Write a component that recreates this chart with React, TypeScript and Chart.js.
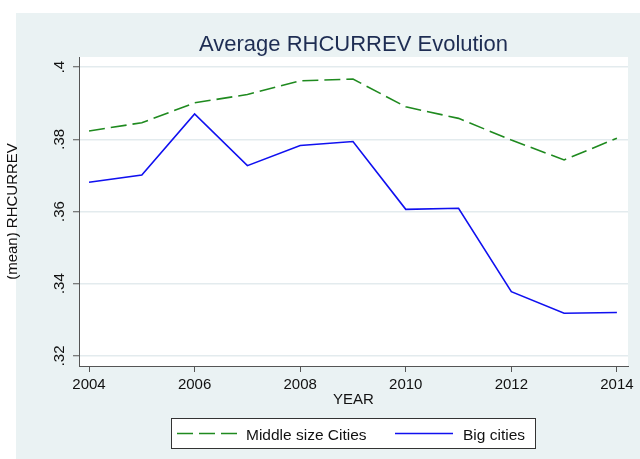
import React, { useEffect, useRef } from "react";
import { Chart, registerables } from "chart.js";

Chart.register(...registerables);

const YEARS = [2004, 2005, 2006, 2007, 2008, 2009, 2010, 2011, 2012, 2013, 2014];
const MIDDLE = [0.3823, 0.3846, 0.3901, 0.3924, 0.3962, 0.3967, 0.389, 0.3858, 0.3798, 0.3743, 0.3803];
const BIG = [0.3681, 0.3701, 0.387, 0.3727, 0.3783, 0.3794, 0.3606, 0.3609, 0.3378, 0.3318, 0.332];
const X_TICKS = [2004, 2006, 2008, 2010, 2012, 2014];
const Y_TICKS = [0.32, 0.34, 0.36, 0.38, 0.4];
const Y_TICK_LABELS = [".32", ".34", ".36", ".38", ".4"];
const SERIES_NAMES = ["Middle size Cities", "Big cities"];
const TITLE = "Average RHCURREV Evolution";
const X_TITLE = "YEAR";
const Y_TITLE = "(mean) RHCURREV";

const FONT = "'Liberation Sans', Arial, Helvetica, sans-serif";
const BG = "#EAF2F3";
const GREEN = "#1f8a1f";
const BLUE = "#1010f0";
const AXIS = "#555555";

const backgroundPlugin = {
  id: "stataBackground",
  beforeDraw(chart: any) {
    const { ctx, width, height, chartArea } = chart;
    ctx.save();
    ctx.fillStyle = "#ffffff";
    ctx.fillRect(0, 0, width, height);
    ctx.fillStyle = BG;
    ctx.fillRect(16, 13, width - 16, height - 13);
    ctx.fillStyle = "#ffffff";
    ctx.fillRect(chartArea.left, chartArea.top, chartArea.right - chartArea.left, chartArea.bottom - chartArea.top);
    ctx.restore();
  },
  afterDraw(chart: any) {
    const { ctx, chartArea } = chart;
    ctx.save();
    // title
    ctx.fillStyle = "#1e2d53";
    ctx.font = `22px ${FONT}`;
    ctx.textAlign = "center";
    ctx.textBaseline = "alphabetic";
    ctx.fillText(TITLE, (chartArea.left + chartArea.right) / 2, 51);

    // y-axis title, partly cut off at the left edge as in the original export
    ctx.save();
    ctx.beginPath();
    ctx.rect(7, 0, 40, chart.height);
    ctx.clip();
    ctx.translate(17, (chartArea.top + chartArea.bottom) / 2);
    ctx.rotate(-Math.PI / 2);
    ctx.fillStyle = "#111111";
    ctx.font = `15px ${FONT}`;
    ctx.textAlign = "center";
    ctx.textBaseline = "alphabetic";
    ctx.fillText(Y_TITLE, 0, 0);
    ctx.restore();

    // legend
    const lx = 171.5, ly = 418.5, lw = 364, lh = 30;
    ctx.fillStyle = "#ffffff";
    ctx.fillRect(lx, ly, lw, lh);
    ctx.strokeStyle = "#333333";
    ctx.lineWidth = 1;
    ctx.strokeRect(lx, ly, lw, lh);
    const cy = ly + lh / 2;
    const colors = [GREEN, BLUE];
    const dashes = [[16, 6], []];
    const sx = [177, 395];
    const sw = [60, 58];
    const tx = [246, 463];
    ctx.font = `15.5px ${FONT}`;
    ctx.textAlign = "left";
    ctx.textBaseline = "alphabetic";
    for (let i = 0; i < 2; i++) {
      ctx.beginPath();
      ctx.setLineDash(dashes[i]);
      ctx.strokeStyle = colors[i];
      ctx.lineWidth = 1.6;
      ctx.moveTo(sx[i], cy);
      ctx.lineTo(sx[i] + sw[i], cy);
      ctx.stroke();
      ctx.setLineDash([]);
      ctx.fillStyle = "#111111";
      ctx.fillText(SERIES_NAMES[i], tx[i], cy + 6);
    }
    ctx.restore();
  },
};

export default function App() {
  const ref = useRef<HTMLCanvasElement | null>(null);
  useEffect(() => {
    document.body.style.margin = "0";
    const canvas = ref.current!;
    const chart = new Chart(canvas, {
      type: "line",
      data: {
        datasets: [
          {
            label: SERIES_NAMES[0],
            data: YEARS.map((x, i) => ({ x, y: MIDDLE[i] })),
            borderColor: GREEN,
            borderWidth: 1.6,
            borderDash: [16, 6],
            pointRadius: 0,
            tension: 0,
            fill: false,
          },
          {
            label: SERIES_NAMES[1],
            data: YEARS.map((x, i) => ({ x, y: BIG[i] })),
            borderColor: BLUE,
            borderWidth: 1.6,
            pointRadius: 0,
            tension: 0,
            fill: false,
          },
        ],
      },
      options: {
        responsive: false,
        animation: false,
        devicePixelRatio: 1,
        layout: { padding: { left: 0, top: 57, right: 12, bottom: 48 } },
        plugins: {
          legend: { display: false },
          title: { display: false },
          tooltip: { enabled: false },
        },
        scales: {
          x: {
            type: "linear",
            min: 2003.81,
            max: 2014.21,
            afterBuildTicks: (s: any) => {
              s.ticks = X_TICKS.map((v) => ({ value: v }));
            },
            afterFit: (s: any) => {
              s.height = 45;
            },
            ticks: {
              includeBounds: false,
              autoSkip: false,
              maxRotation: 0,
              minRotation: 0,
              padding: 4,
              color: "#111111",
              font: { family: FONT, size: 15 },
              callback: (v: any) => String(v),
            },
            grid: {
              drawOnChartArea: false,
              tickLength: 6,
              tickColor: AXIS,
              tickWidth: 1,
            },
            border: { display: true, color: AXIS, width: 1 },
            title: {
              display: true,
              text: X_TITLE,
              color: "#111111",
              font: { family: FONT, size: 15 },
              padding: { top: 0, bottom: 2 },
            },
          },
          y: {
            type: "linear",
            min: 0.3172,
            max: 0.4028,
            afterBuildTicks: (s: any) => {
              s.ticks = Y_TICKS.map((v) => ({ value: v }));
            },
            afterFit: (s: any) => {
              s.width = 79;
            },
            ticks: {
              includeBounds: false,
              autoSkip: false,
              minRotation: 90,
              maxRotation: 90,
              crossAlign: "center",
              padding: 3,
              color: "#111111",
              font: { family: FONT, size: 15 },
              callback: (v: any) => {
                const idx = Y_TICKS.findIndex((t) => Math.abs(t - v) < 1e-9);
                return idx >= 0 ? Y_TICK_LABELS[idx] : "";
              },
            },
            grid: {
              drawOnChartArea: true,
              color: "#e3ebee",
              lineWidth: 1.5,
              tickLength: 6,
              tickColor: AXIS,
              tickWidth: 1,
            },
            border: { display: true, color: AXIS, width: 1 },
            title: { display: false, text: Y_TITLE },
          },
        },
      },
      plugins: [backgroundPlugin],
    } as any);
    return () => chart.destroy();
  }, []);
  return <canvas ref={ref} width={640} height={459} style={{ display: "block", width: 640, height: 459 }} />;
}
